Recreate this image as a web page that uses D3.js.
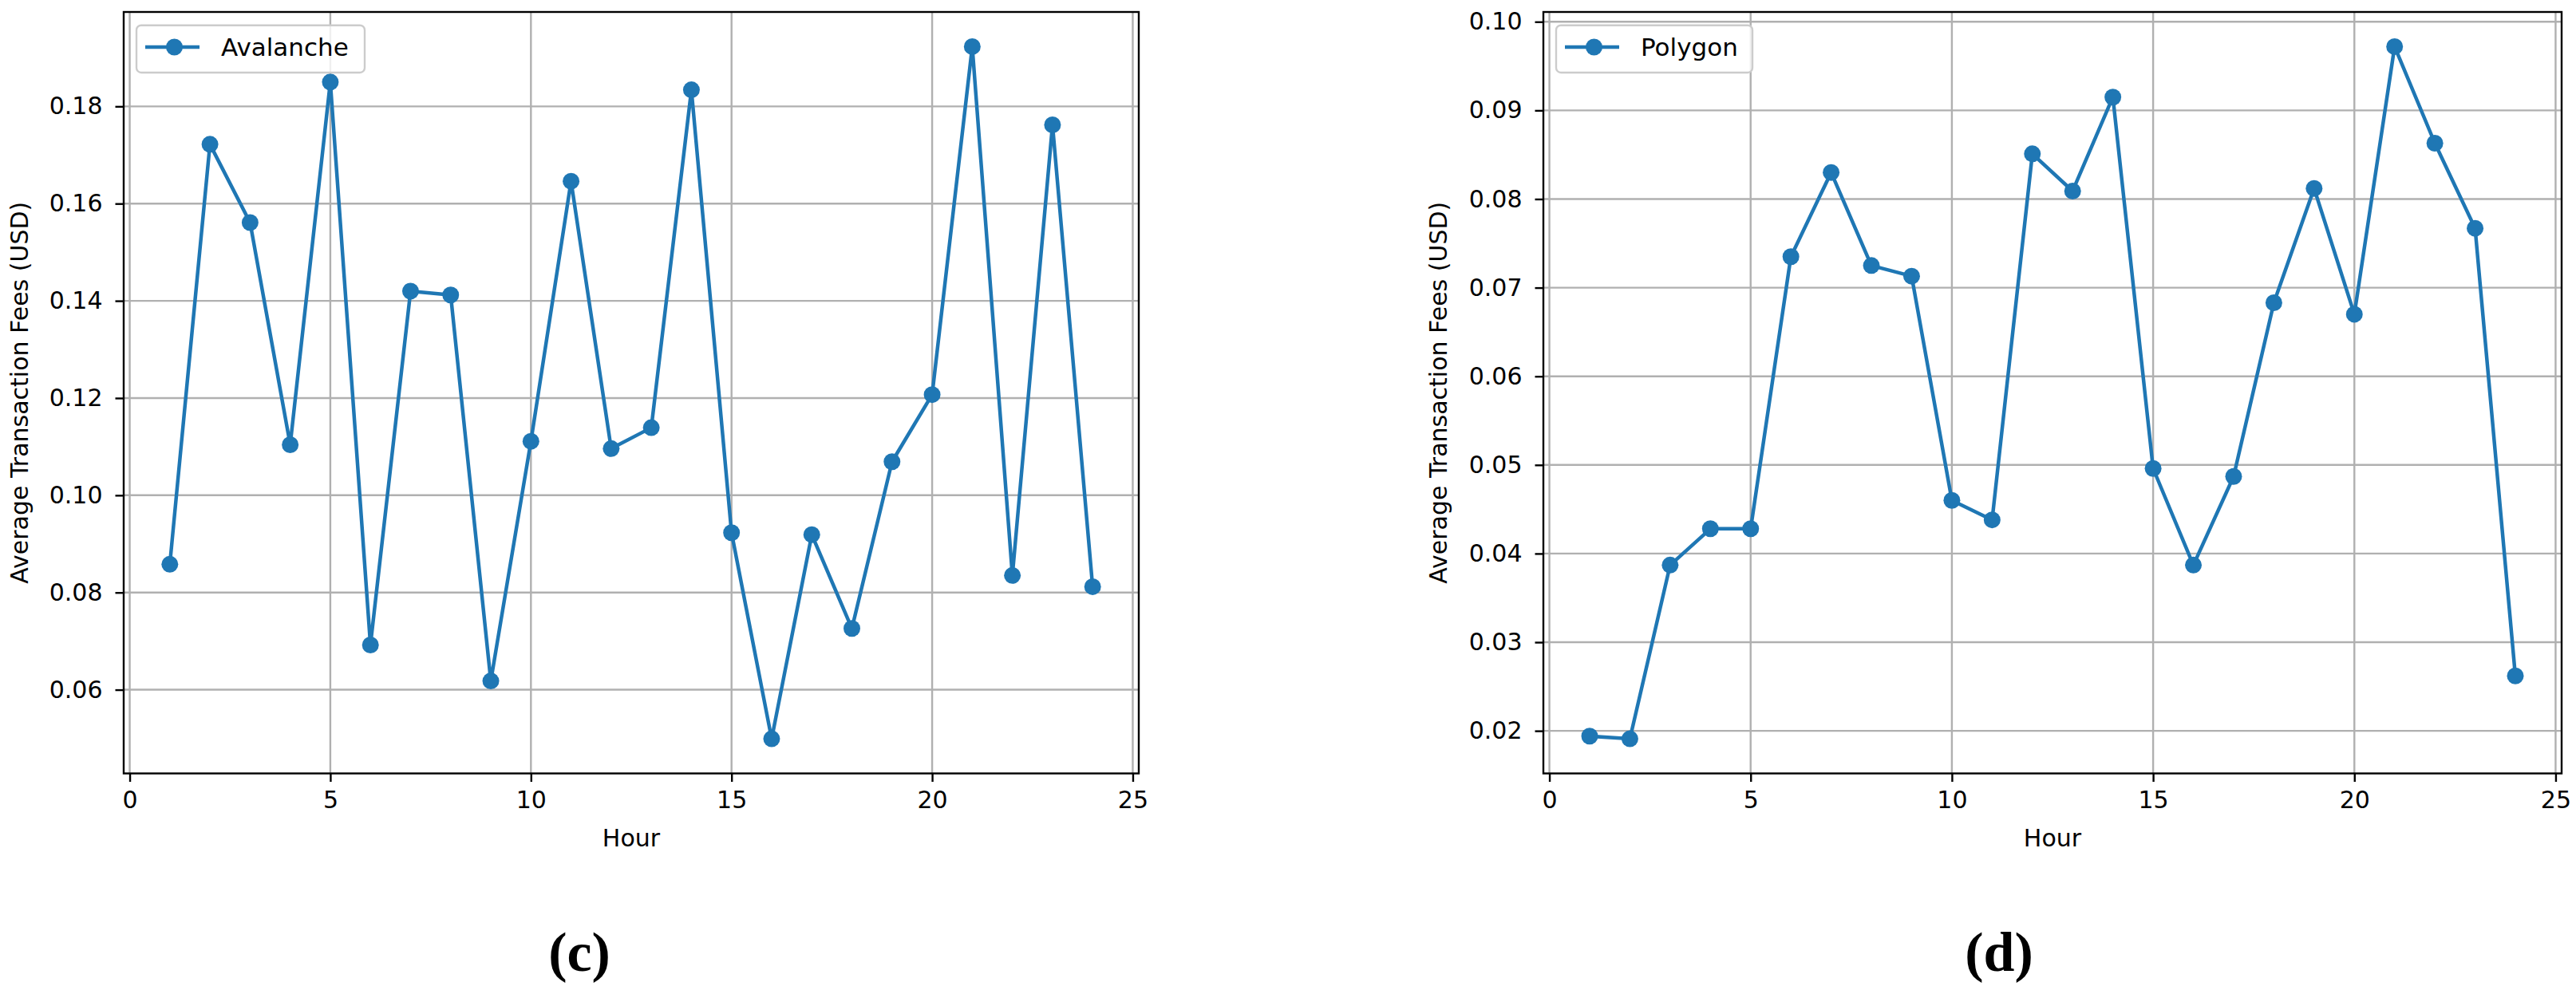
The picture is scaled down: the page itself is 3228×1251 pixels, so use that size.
<!DOCTYPE html>
<html>
<head>
<meta charset="utf-8">
<script src="https://cdn.jsdelivr.net/npm/d3@7"></script>
<style>
  html, body { margin: 0; padding: 0; background: #fff; }
  svg { display: block; }
</style>
</head>
<body>
<svg id="chart" width="3228" height="1251"></svg>
<script>
// ---------------- data ----------------
const hours = [1,2,3,4,5,6,7,8,9,10,11,12,13,14,15,16,17,18,19,20,21,22,23,24];
const avalancheFees = [0.0858,0.1722,0.1561,0.1104,0.1850,0.0692,0.1420,0.1412,0.0618,0.1111,0.1646,0.1096,
                       0.1139,0.1834,0.0923,0.0499,0.0919,0.0726,0.1069,0.1207,0.1923,0.0835,0.1762,0.0812];
const polygonFees = [0.0194,0.0191,0.0387,0.0428,0.0428,0.0735,0.0830,0.0725,0.0713,0.0460,0.0438,0.0851,
                     0.0809,0.0915,0.0496,0.0387,0.0487,0.0683,0.0812,0.0670,0.0972,0.0863,0.0767,0.0262];
const xTicks = [0,5,10,15,20,25];
const avalancheYTicks = [0.06,0.08,0.10,0.12,0.14,0.16,0.18];
const polygonYTicks = [0.02,0.03,0.04,0.05,0.06,0.07,0.08,0.09,0.10];
const seriesNames = ["Avalanche","Polygon"];
const captions = ["(c)","(d)"];
const xLabel = "Hour";
const yLabel = "Average Transaction Fees (USD)";

// ---------------- drawing ----------------
const svg = d3.select("#chart");
const color = "#1f77b4";
const font = "'DejaVu Sans', sans-serif";
const fs = 30;
const plotTop = 15, plotBottom = 969.5;

function padded(ext){ const m = (ext[1]-ext[0])*0.05; return [ext[0]-m, ext[1]+m]; }

const panels = [
  {name: seriesNames[0], values: avalancheFees, yTicks: avalancheYTicks, left: 155, right: 1427,
   legendW: 286, caption: captions[0], captionX: 726, ylabelX: 35},
  {name: seriesNames[1], values: polygonFees, yTicks: polygonYTicks, left: 1934, right: 3210,
   legendW: 246, caption: captions[1], captionX: 2505, ylabelX: 1813}
];

panels.forEach(p => {
  const x = d3.scaleLinear().domain(padded(d3.extent(hours))).range([p.left, p.right]);
  const y = d3.scaleLinear().domain(padded(d3.extent(p.values))).range([plotBottom, plotTop]);
  const g = svg.append("g");

  // grid
  g.append("g").selectAll("line").data(xTicks).join("line")
    .attr("x1", d => x(d)).attr("x2", d => x(d)).attr("y1", plotTop).attr("y2", plotBottom)
    .attr("stroke", "#b0b0b0").attr("stroke-width", 2.4);
  g.append("g").selectAll("line").data(p.yTicks).join("line")
    .attr("x1", p.left).attr("x2", p.right).attr("y1", d => y(d)).attr("y2", d => y(d))
    .attr("stroke", "#b0b0b0").attr("stroke-width", 2.4);

  // line + markers
  const line = d3.line().x((d,i) => x(hours[i])).y(d => y(d));
  g.append("path").datum(p.values).attr("d", line)
    .attr("fill", "none").attr("stroke", color).attr("stroke-width", 4.5)
    .attr("stroke-linejoin", "round").attr("stroke-linecap", "square");
  g.append("g").selectAll("circle").data(p.values).join("circle")
    .attr("cx", (d,i) => x(hours[i])).attr("cy", d => y(d)).attr("r", 10.5)
    .attr("fill", color);

  // axes
  const xAxis = d3.axisBottom(x).tickValues(xTicks).tickFormat(d3.format("d"))
    .tickSizeInner(10.5).tickSizeOuter(0).tickPadding(12);
  const yAxis = d3.axisLeft(y).tickValues(p.yTicks).tickFormat(d3.format(".2f"))
    .tickSizeInner(10.5).tickSizeOuter(0).tickPadding(16);
  const gx = g.append("g").attr("transform", `translate(0,${plotBottom})`).call(xAxis);
  const gy = g.append("g").attr("transform", `translate(${p.left},0)`).call(yAxis);
  [gx, gy].forEach(a => {
    a.select(".domain").remove();
    a.selectAll(".tick line").attr("stroke", "#000").attr("stroke-width", 2.4);
    a.selectAll(".tick text").attr("font-family", font).attr("font-size", fs).attr("fill", "#000");
  });

  // spines
  g.append("rect").attr("x", p.left).attr("y", plotTop)
    .attr("width", p.right - p.left).attr("height", plotBottom - plotTop)
    .attr("fill", "none").attr("stroke", "#000").attr("stroke-width", 2.4);

  // axis labels
  g.append("text").attr("x", (p.left + p.right)/2).attr("y", 1061)
    .attr("text-anchor", "middle").attr("font-family", font).attr("font-size", fs)
    .attr("fill", "#000").text(xLabel);
  g.append("text")
    .attr("transform", `translate(${p.ylabelX},${(plotTop+plotBottom)/2}) rotate(-90)`)
    .attr("text-anchor", "middle").attr("font-family", font).attr("font-size", fs)
    .attr("fill", "#000").text(yLabel);

  // legend
  const lx = p.left + 16, ly = plotTop + 16.7;
  const lg = g.append("g");
  lg.append("rect").attr("x", lx).attr("y", ly).attr("width", p.legendW).attr("height", 59.3)
    .attr("rx", 6).attr("fill", "rgba(255,255,255,0.8)").attr("stroke", "#cccccc").attr("stroke-width", 2.4);
  lg.append("line").attr("x1", lx + 11).attr("x2", lx + 79).attr("y1", ly + 27.3).attr("y2", ly + 27.3)
    .attr("stroke", color).attr("stroke-width", 4.5);
  lg.append("circle").attr("cx", lx + 47.5).attr("cy", ly + 27.3).attr("r", 10.5).attr("fill", color);
  lg.append("text").attr("x", lx + 106).attr("y", ly + 38.5)
    .attr("font-family", font).attr("font-size", 31).attr("fill", "#000").text(p.name);

  // caption
  svg.append("text").attr("x", p.captionX).attr("y", 1216.5).attr("text-anchor", "middle")
    .attr("font-family", "'Liberation Serif', 'Times New Roman', serif").attr("font-weight", "bold")
    .attr("font-size", 70).attr("fill", "#000").text(p.caption);
});
</script>
</body>
</html>
